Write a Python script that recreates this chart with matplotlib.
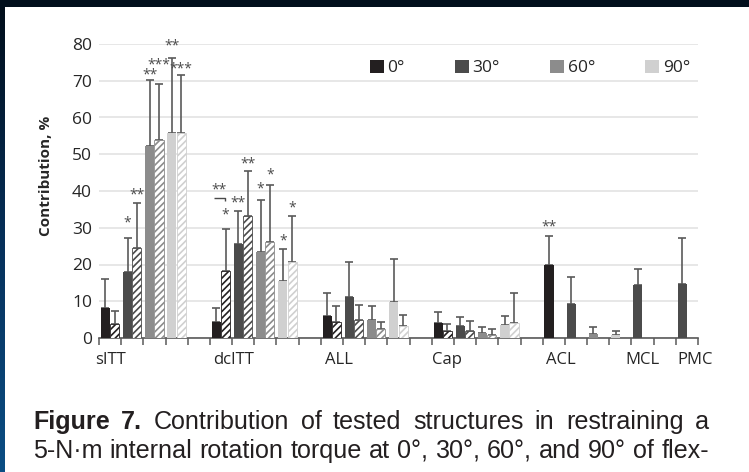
import numpy as np
import matplotlib
matplotlib.use('Agg')
import matplotlib.pyplot as plt
from matplotlib.patches import Patch, Rectangle
from matplotlib.colors import LinearSegmentedColormap
import matplotlib.transforms as mtransforms

nan = np.nan

categories = ['sITT', 'dcITT', 'ALL', 'Cap', 'ACL', 'MCL', 'PMC']
angles = ['0°', '30°', '60°', '90°']
colors = ['#231f20', '#4b4b4b', '#8c8c8c', '#d0d0d0']

# solid bars: mean and SD per structure, one list per flexion angle
solid_0 = [8.2, 4.3, 6.0, 4.2, 19.8, nan, nan]
solid_0_sd = [7.8, 3.8, 6.3, 2.8, 7.9, nan, nan]
solid_30 = [18.0, 25.6, 11.1, 3.3, 9.2, 14.4, 14.7]
solid_30_sd = [9.2, 8.9, 9.6, 2.5, 7.5, 4.5, 12.6]
solid_60 = [52.2, 23.4, 4.9, 1.4, 1.1, nan, nan]
solid_60_sd = [18.0, 14.1, 3.9, 1.7, 1.9, nan, nan]
solid_90 = [55.8, 15.5, 9.9, 3.5, 0.9, nan, nan]
solid_90_sd = [20.3, 8.7, 11.7, 2.4, 1.0, nan, nan]

# hatched bars
hatch_0 = [3.8, 18.3, 4.4, 2.0, nan, nan, nan]
hatch_0_sd = [3.5, 11.3, 4.4, 1.8, nan, nan, nan]
hatch_30 = [24.4, 33.2, 4.9, 2.0, nan, nan, nan]
hatch_30_sd = [12.3, 12.3, 4.2, 2.7, nan, nan, nan]
hatch_60 = [53.9, 26.1, 2.4, 0.9, nan, nan, nan]
hatch_60_sd = [15.1, 15.5, 2.0, 1.6, nan, nan, nan]
hatch_90 = [55.7, 20.7, 3.3, 4.0, nan, nan, nan]
hatch_90_sd = [16.0, 12.4, 3.0, 8.2, nan, nan, nan]

# significance marks: (structure, angle index, hatched bar?, mark, height of mark)
stars = [
    (0, 1, False, '*', 31.8), (0, 1, True, '**', 39.5), (0, 2, False, '**', 72.0),
    (0, 2, True, '***', 74.8), (0, 3, False, '**', 80.0), (0, 3, True, '***', 73.8),
    (1, 0, True, '*', 34.0), (1, 1, False, '**', 37.3), (1, 1, True, '**', 47.9),
    (1, 2, False, '*', 41.0), (1, 2, True, '*', 44.8), (1, 3, False, '*', 27.0),
    (1, 3, True, '*', 36.0), (4, 0, False, '**', 30.7),
]
# dcITT 0°: solid vs hatched, bracket height and mark height
bracket = (1, '**', 38.1, 40.8)

caption_1 = 'Figure 7. Contribution of tested structures in restraining a'
caption_2 = '5-N\u00b7m internal rotation torque at 0\u00b0, 30\u00b0, 60\u00b0, and 90\u00b0 of flex-'

solid = [solid_0, solid_30, solid_60, solid_90]
solid_sd = [solid_0_sd, solid_30_sd, solid_60_sd, solid_90_sd]
hatched = [hatch_0, hatch_30, hatch_60, hatch_90]
hatched_sd = [hatch_0_sd, hatch_30_sd, hatch_60_sd, hatch_90_sd]

# layout: first slot of each structure on the x axis, label x positions
group_start = [0, 5, 10, 15, 20, 24, 26]
label_x = [0.5, 6.05, 10.8, 15.7, 20.8, 24.5, 26.85]
n_slots = 27
W, H = 749, 472

plt.rcParams['font.family'] = ['Open Sans', 'DejaVu Sans']
plt.rcParams['hatch.linewidth'] = 1.2

fig = plt.figure(figsize=(W / 100, H / 100), dpi=100)
fig.patch.set_facecolor('white')

ax = fig.add_axes([99 / W, (H - 338) / H, 599 / W, 294 / H])


def slot_of(c, a):
    present = [k for k in range(4) if not np.isnan(solid[k][c])]
    return group_start[c] + present.index(a)


bw = 0.41
err_kw = dict(fmt='none', ecolor='#5a5a5a', elinewidth=1.2, capsize=2.6, capthick=1.2, zorder=2)
centers = {}
for a in range(4):
    for c in range(len(categories)):
        if np.isnan(solid[a][c]):
            continue
        s = slot_of(c, a)
        x0 = s + 0.08
        ax.bar(x0, solid[a][c], width=bw, align='edge', color=colors[a], linewidth=0, zorder=3)
        ax.errorbar(x0 + bw / 2, solid[a][c], yerr=[[0], [solid_sd[a][c]]], **err_kw)
        centers[(c, a, False)] = x0 + bw / 2
        if not np.isnan(hatched[a][c]):
            x1 = s + 0.50
            ax.bar(x1, hatched[a][c], width=bw, align='edge', facecolor='white',
                   edgecolor=colors[a], hatch='/////', linewidth=0.6, zorder=3)
            ax.errorbar(x1 + bw / 2, hatched[a][c], yerr=[[0], [hatched_sd[a][c]]], **err_kw)
            centers[(c, a, True)] = x1 + bw / 2

star_kw = dict(ha='center', va='baseline', fontsize=10, color='#4a4a4a', clip_on=False, zorder=4)
for c, a, h, mark, yv in stars:
    ax.text(centers[(c, a, h)], yv - 1.5, mark, **star_kw)

# bracket over dcITT 0° pair
bc, bmark, by, bmy = bracket
xs = group_start[bc]
ax.plot([xs + 0.18, xs + 0.68, xs + 0.68], [by, by, by - 0.9], color='#4a4a4a', lw=1.0,
        solid_capstyle='butt', clip_on=False)
ax.text(xs + 0.43, bmy - 1.5, bmark, **star_kw)

ax.set_xlim(0, n_slots)
ax.set_ylim(0, 80)
ax.set_yticks(range(0, 81, 10))
ax.set_xticks(range(n_slots + 1))
ax.set_xticklabels([])
ax.yaxis.grid(True, color='#e3e3e3', lw=1.2)
ax.set_axisbelow(True)
for side in ['left', 'right', 'top']:
    ax.spines[side].set_visible(False)
ax.spines['bottom'].set_color('#5a5a5a')
ax.spines['bottom'].set_linewidth(1.2)
ax.tick_params(axis='x', direction='out', length=5, width=1.1, color='#5a5a5a')
ax.tick_params(axis='y', length=0, pad=5, labelsize=12.5, labelcolor='#262626')

trans = mtransforms.blended_transform_factory(ax.transData, ax.transAxes)
for name, lx in zip(categories, label_x):
    ax.text(lx, -0.076, name, transform=trans, ha='center', va='center',
            fontsize=12, color='#262626')

fig.text(46 / W, (H - 176) / H, 'Contribution, %', rotation=90, ha='center', va='center',
         fontsize=11, fontweight='bold', color='#262626')

handles = [Patch(facecolor=col, edgecolor='none') for col in colors]
ax.legend(handles, angles, ncol=4, frameon=False, loc='center right',
          bbox_to_anchor=((690 - 99) / 599, (338 - 68) / 294), borderpad=0, borderaxespad=0,
          handlelength=0.8, handleheight=0.8, handletextpad=0.2, columnspacing=2.9,
          fontsize=12.5, labelcolor='#262626')

# dark frame of the page
fig.patches.append(Rectangle((0, 1 - 7 / H), 1, 7 / H, transform=fig.transFigure,
                             facecolor='#010f1c', edgecolor='none', zorder=10))
gax = fig.add_axes([0, 0, 5 / W, 1 - 7 / H])
cmap = LinearSegmentedColormap.from_list('edge', ['#010e1b', '#06305a', '#0b4e84'])
gax.imshow(np.linspace(0, 1, 256).reshape(-1, 1), aspect='auto', cmap=cmap)
gax.axis('off')

# justified caption
fig.canvas.draw()
renderer = fig.canvas.get_renderer()


def text_width(s, **kw):
    t = fig.text(0, 0, s, **kw)
    w = t.get_window_extent(renderer).width
    t.remove()
    return w


cap_font = 'Liberation Sans'
left, right = 33, 709
# second line is set with plain word spacing, so it fixes the type size
size = 15 * (right - left) / text_width(caption_2, fontsize=15, family=cap_font)


def justify(line, y_px, n_bold=0):
    words = line.split(' ')
    kws = [dict(fontsize=size, family=cap_font,
                fontweight='bold' if i < n_bold else 'normal') for i in range(len(words))]
    widths = [text_width(w, **k) for w, k in zip(words, kws)]
    gap = (right - left - sum(widths)) / (len(words) - 1)
    x = left
    for w, k, wd in zip(words, kws, widths):
        fig.text(x / W, (H - y_px) / H, w, ha='left', va='baseline', color='#231f20', **k)
        x += wd + gap


justify(caption_1, 429, n_bold=2)
justify(caption_2, 458)

fig.savefig('out.png', dpi=100, facecolor='white')
